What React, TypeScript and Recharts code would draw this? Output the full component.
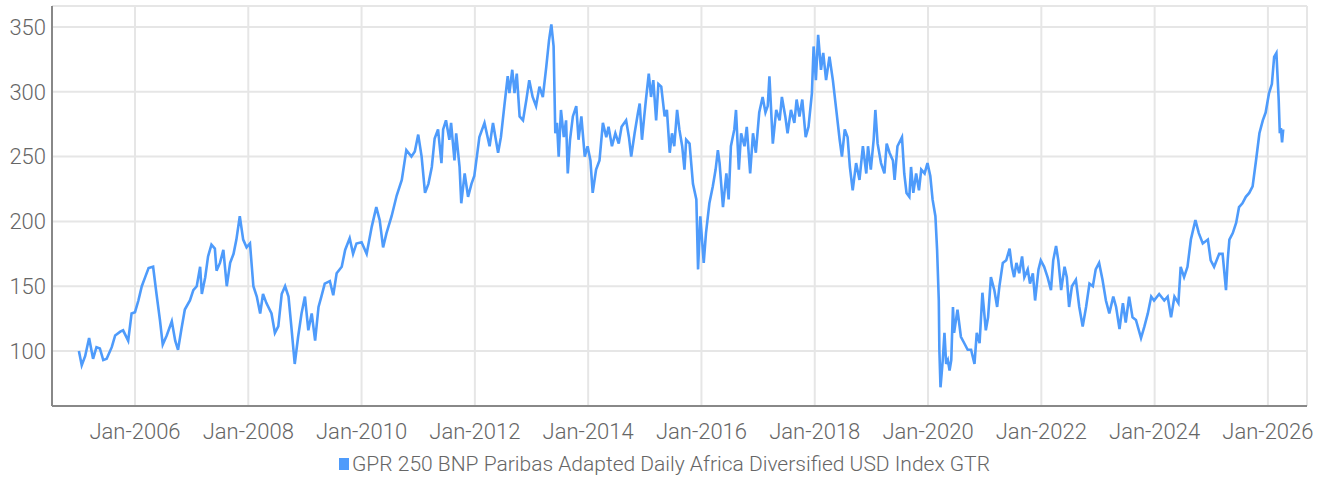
import { LineChart, Line, XAxis, YAxis, CartesianGrid, Legend } from 'recharts';

// fractional year / index level
const dates2005 = [
  2005.01, 2005.06, 2005.12, 2005.19, 2005.26, 2005.32, 2005.38, 2005.44, 2005.5, 2005.59,
  2005.65, 2005.74, 2005.79, 2005.88, 2005.94, 2006.0, 2006.06, 2006.12, 2006.18, 2006.24,
  2006.32, 2006.38, 2006.44, 2006.49, 2006.56, 2006.65, 2006.71, 2006.76, 2006.82, 2006.88,
  2006.97, 2007.03, 2007.09, 2007.15, 2007.18, 2007.24, 2007.29, 2007.35, 2007.41, 2007.44,
  2007.5, 2007.56, 2007.62, 2007.68, 2007.74, 2007.79, 2007.85, 2007.91, 2007.97, 2008.03,
  2008.09, 2008.15, 2008.21, 2008.26, 2008.32, 2008.41, 2008.47, 2008.53, 2008.59, 2008.65,
  2008.71, 2008.76, 2008.82, 2008.88, 2008.94, 2009.0, 2009.06, 2009.12, 2009.18, 2009.24,
  2009.29, 2009.35, 2009.44, 2009.5, 2009.56, 2009.65, 2009.71, 2009.79, 2009.85, 2009.91,
  2010.0, 2010.09, 2010.18, 2010.26, 2010.32, 2010.38, 2010.44, 2010.53, 2010.62, 2010.71,
  2010.79, 2010.88, 2010.94, 2011.0, 2011.06, 2011.12, 2011.18, 2011.24, 2011.29, 2011.35,
];
const values2005 = [
  100, 89, 96, 110, 94, 103, 102, 93, 94, 103,
  112, 115, 116, 108, 129, 130, 139, 150, 157, 164,
  165, 144, 124, 105, 112, 123, 108, 101, 117, 132,
  139, 147, 150, 165, 144, 157, 173, 182, 179, 162,
  168, 178, 150, 168, 175, 186, 204, 186, 180, 183,
  150, 142, 129, 144, 137, 129, 114, 119, 144, 150,
  142, 119, 90, 111, 129, 142, 116, 129, 108, 134,
  142, 152, 154, 143, 160, 165, 178, 187, 175, 183,
  184, 175, 196, 211, 201, 180, 191, 204, 220, 232,
  255, 250, 254, 267, 250, 222, 229, 242, 264, 271,
];

const dates2011 = [
  2011.41, 2011.44, 2011.49, 2011.55, 2011.58, 2011.64, 2011.67, 2011.73, 2011.76, 2011.82,
  2011.88, 2011.94, 2011.99, 2012.08, 2012.17, 2012.26, 2012.32, 2012.41, 2012.46, 2012.52,
  2012.58, 2012.61, 2012.66, 2012.7, 2012.74, 2012.79, 2012.85, 2012.91, 2012.96, 2013.02,
  2013.08, 2013.14, 2013.2, 2013.26, 2013.31, 2013.35, 2013.39, 2013.42, 2013.45, 2013.48,
  2013.52, 2013.57, 2013.61, 2013.64, 2013.68, 2013.73, 2013.79, 2013.83, 2013.88, 2013.94,
  2013.99, 2014.04, 2014.08, 2014.14, 2014.2, 2014.26, 2014.32, 2014.36, 2014.42, 2014.48,
  2014.54, 2014.59, 2014.67, 2014.72, 2014.76, 2014.82, 2014.88, 2014.91, 2014.95, 2014.99,
  2015.02, 2015.07, 2015.11, 2015.15, 2015.2, 2015.24, 2015.29, 2015.35, 2015.39, 2015.44,
  2015.48, 2015.52, 2015.57, 2015.61, 2015.66, 2015.7, 2015.73, 2015.79, 2015.85, 2015.91,
  2015.94, 2015.98, 2016.04, 2016.08, 2016.14, 2016.2, 2016.25, 2016.29, 2016.32, 2016.38,
  2016.44, 2016.48, 2016.52, 2016.58, 2016.61, 2016.66, 2016.7, 2016.76, 2016.8, 2016.86,
  2016.91, 2016.96, 2017.02, 2017.08, 2017.13, 2017.17, 2017.2, 2017.26, 2017.32, 2017.38,
  2017.42, 2017.48, 2017.52, 2017.58, 2017.64, 2017.68, 2017.73, 2017.78, 2017.84, 2017.89,
  2017.95, 2017.98, 2018.02, 2018.06, 2018.11, 2018.15, 2018.2, 2018.26, 2018.32, 2018.38,
  2018.44, 2018.48, 2018.53, 2018.58, 2018.62, 2018.67, 2018.73, 2018.79, 2018.85, 2018.91,
];
const values2011 = [
  245, 271, 278, 263, 276, 247, 268, 242, 214, 237,
  219, 229, 235, 265, 276, 258, 276, 253, 265, 289,
  312, 299, 317, 299, 314, 281, 278, 294, 309, 296,
  289, 304, 296, 319, 340, 352, 335, 268, 276, 250,
  286, 265, 278, 237, 263, 281, 289, 263, 281, 250,
  258, 247, 222, 240, 247, 276, 265, 273, 258, 268,
  260, 273, 278, 265, 250, 268, 284, 291, 263, 281,
  294, 314, 296, 309, 278, 306, 304, 281, 286, 253,
  268, 258, 286, 271, 258, 240, 263, 260, 229, 217,
  163, 204, 168, 191, 214, 227, 240, 255, 245, 211,
  237, 217, 258, 271, 286, 240, 268, 258, 273, 237,
  268, 253, 284, 296, 284, 289, 312, 260, 286, 278,
  296, 281, 268, 286, 276, 294, 281, 294, 265, 273,
  299, 335, 309, 344, 317, 330, 309, 327, 309, 286,
  263, 250, 271, 265, 242, 224, 245, 232, 258, 237,
];

const dates2019 = [
  2018.94, 2018.99, 2019.04, 2019.07, 2019.11, 2019.17, 2019.23, 2019.27, 2019.32, 2019.38,
  2019.41, 2019.46, 2019.54, 2019.58, 2019.62, 2019.67, 2019.7, 2019.74, 2019.79, 2019.84,
  2019.88, 2019.94, 2019.99, 2020.04, 2020.08, 2020.13, 2020.16, 2020.17, 2020.19, 2020.2,
  2020.22, 2020.26, 2020.29, 2020.32, 2020.35, 2020.38, 2020.41, 2020.44, 2020.46, 2020.52,
  2020.58, 2020.64, 2020.7, 2020.76, 2020.82, 2020.86, 2020.91, 2020.96, 2021.02, 2021.06,
  2021.11, 2021.17, 2021.22, 2021.26, 2021.32, 2021.38, 2021.44, 2021.48, 2021.52, 2021.56,
  2021.61, 2021.66, 2021.7, 2021.76, 2021.8, 2021.85, 2021.89, 2021.95, 2021.99, 2022.05,
  2022.11, 2022.17, 2022.21, 2022.26, 2022.3, 2022.35, 2022.41, 2022.45, 2022.49, 2022.54,
  2022.61, 2022.67, 2022.73, 2022.79, 2022.85, 2022.91, 2022.96, 2023.02, 2023.08, 2023.14,
  2023.2, 2023.27, 2023.32, 2023.38, 2023.44, 2023.49, 2023.55, 2023.61, 2023.67, 2023.76,
  2023.82, 2023.88, 2023.94, 2023.99, 2024.08, 2024.17, 2024.23, 2024.29, 2024.35, 2024.42,
  2024.46, 2024.52, 2024.58, 2024.64, 2024.72, 2024.78, 2024.85, 2024.94, 2024.99, 2025.05,
  2025.14, 2025.2, 2025.26, 2025.29, 2025.32, 2025.38, 2025.44, 2025.49, 2025.55, 2025.61,
  2025.67, 2025.73, 2025.79, 2025.85, 2025.91, 2025.96, 2026.02, 2026.07, 2026.11, 2026.15,
  2026.19, 2026.21, 2026.23, 2026.25, 2026.27,
];
const values2019 = [
  258, 240, 263, 286, 260, 245, 237, 260, 253, 247,
  232, 258, 265, 237, 222, 219, 242, 222, 237, 224,
  240, 237, 245, 235, 217, 204, 178, 165, 139, 101,
  72, 93, 114, 90, 93, 85, 93, 134, 114, 132,
  111, 106, 101, 101, 90, 114, 106, 145, 116, 126,
  157, 147, 134, 150, 168, 170, 179, 165, 157, 168,
  160, 173, 157, 163, 152, 160, 139, 163, 170, 165,
  157, 147, 170, 181, 170, 147, 165, 157, 134, 150,
  155, 134, 119, 134, 152, 150, 163, 168, 155, 139,
  129, 142, 134, 117, 137, 122, 142, 126, 124, 110,
  119, 129, 142, 139, 144, 139, 142, 126, 142, 137,
  165, 157, 165, 186, 201, 191, 183, 186, 170, 165,
  175, 175, 147, 170, 186, 191, 199, 211, 214, 219,
  222, 227, 247, 268, 278, 284, 299, 306, 327, 330,
  294, 268, 272, 261, 271,
];

const yearTicks = [2006, 2008, 2010, 2012, 2014, 2016, 2018, 2020, 2022, 2024, 2026];
const valueTicks = [100, 150, 200, 250, 300, 350];
const seriesName = 'GPR 250 BNP Paribas Adapted Daily Africa Diversified USD Index GTR';

const allDates = [...dates2005, ...dates2011, ...dates2019];
const allValues = [...values2005, ...values2011, ...values2019];
const chartData = allDates.map((t, i) => ({ t, v: allValues[i] }));

const font = "Roboto, 'Noto Sans', sans-serif";
const blue = '#4e9bfb';
const tickStyle = { fill: '#666', fontSize: 22, fontFamily: font, fontWeight: 300 };

const LegendBox = () => (
  <div style={{ height: 40, display: 'flex', justifyContent: 'center', alignItems: 'flex-start' }}>
    <div style={{ display: 'flex', alignItems: 'center', lineHeight: '26px', marginLeft: 22 }}>
      <span style={{ width: 10, height: 12, background: blue, display: 'inline-block', marginRight: 3 }} />
      <span style={{ fontFamily: font, fontSize: 21, fontWeight: 300, color: '#666' }}>{seriesName}</span>
    </div>
  </div>
);

const App = () => {
  return (
    <div style={{ position: 'absolute', left: 0, top: 0, fontFamily: font }}>
      <LineChart width={1325} height={491} data={chartData} margin={{ top: 6, right: 18, left: 0, bottom: 0 }}>
        <CartesianGrid stroke="#e6e6e6" strokeWidth={2} />
        <XAxis
          dataKey="t"
          type="number"
          domain={[2004.535, 2026.69]}
          ticks={yearTicks}
          tickFormatter={(v: number) => `Jan-${v}`}
          tickLine={false}
          tickSize={0}
          tickMargin={17}
          height={45}
          axisLine={{ stroke: '#888', strokeWidth: 2 }}
          tick={tickStyle}
          interval={0}
        />
        <YAxis
          type="number"
          domain={[57.6, 366.2]}
          ticks={valueTicks}
          width={52}
          tickLine={false}
          tickSize={0}
          tickMargin={6}
          axisLine={{ stroke: '#888', strokeWidth: 2 }}
          tick={tickStyle}
          interval={0}
        />
        <Legend verticalAlign="bottom" content={() => <LegendBox />} />
        <Line
          type="linear"
          dataKey="v"
          name={seriesName}
          stroke={blue}
          strokeWidth={2.6}
          dot={false}
          isAnimationActive={false}
        />
      </LineChart>
    </div>
  );
};

export default App;
